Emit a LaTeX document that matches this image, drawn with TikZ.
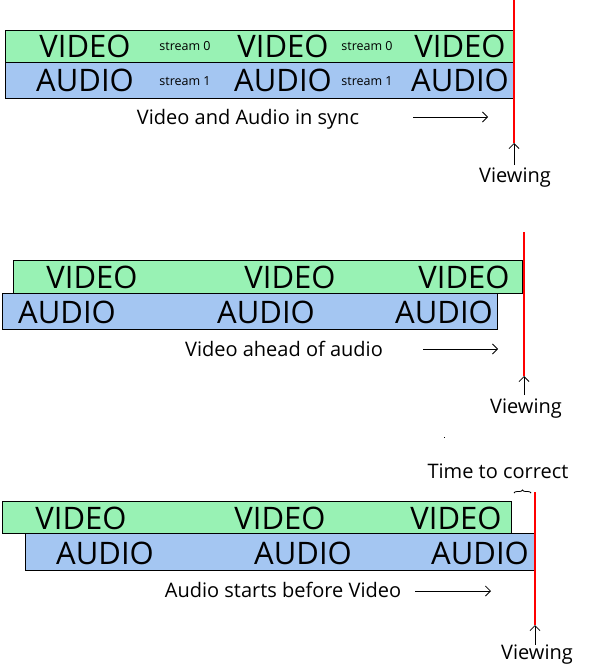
\documentclass[tikz,border=0pt]{standalone}
\usepackage{fontspec}
\setmainfont{Open Sans}
\usetikzlibrary{arrows.meta,decorations.pathreplacing}
\definecolor{vidgreen}{RGB}{152,242,180}
\definecolor{audblue}{RGB}{164,198,242}
\begin{document}
\begin{tikzpicture}[x=1pt,y=-1pt,
 bigtxt/.style={font=\fontsize{31}{31}\selectfont, inner sep=0pt, anchor=base},
 captxt/.style={font=\fontsize{20}{20}\selectfont, inner sep=0pt, anchor=base},
 smalltxt/.style={font=\fontsize{12.5}{12.5}\selectfont, inner sep=0pt, anchor=base},
 vbar/.style={fill=vidgreen, draw=black, line width=1pt},
 abar/.style={fill=audblue, draw=black, line width=1pt},
 redline/.style={draw=red, line width=1.4pt},
 arr/.style={-{Straight Barb[length=5pt,width=10pt]}, line width=0.8pt}]
\useasboundingbox (0,0) rectangle (604,664);

% ---------- section 1 ----------
\draw[vbar] (5,30) rectangle (514,62);
\draw[abar] (5,62) rectangle (514,98);
\node[bigtxt] (v1a) at (85,57) {VIDEO};
\node[bigtxt] (v1b) at (283,57) {VIDEO};
\node[bigtxt] (v1c) at (460,57) {VIDEO};
\node[bigtxt] (a1a) at (85,91) {AUDIO};
\node[bigtxt] (a1b) at (283,91) {AUDIO};
\node[bigtxt] (a1c) at (460,91) {AUDIO};
\node[smalltxt] (s0a) at (185,50) {stream 0};
\node[smalltxt] (s0b) at (367,50) {stream 0};
\node[smalltxt] (s1a) at (185,85) {stream 1};
\node[smalltxt] (s1b) at (367,85) {stream 1};
\node[captxt] (c1) at (248,124) {Video and Audio in sync};
\coordinate (h1s) at (413,117);
\coordinate (h1e) at (488,117);
\draw[arr] (h1s) -- (h1e);
\coordinate (r1t) at (514,0);
\coordinate (r1b) at (514,143);
\draw[redline] (r1t) -- (r1b);
\node[captxt] (w1) at (515,182) {Viewing};
\coordinate (w1a) at (514,165);
\draw[arr] (w1a) -- (r1b);

% ---------- section 2 ----------
\draw[vbar] (13,260) rectangle (522,293);
\draw[abar] (2,293) rectangle (497,329);
\node[bigtxt] (v2a) at (92,288) {VIDEO};
\node[bigtxt] (v2b) at (290,288) {VIDEO};
\node[bigtxt] (v2c) at (464,288) {VIDEO};
\node[bigtxt] (a2a) at (67,323) {AUDIO};
\node[bigtxt] (a2b) at (266,323) {AUDIO};
\node[bigtxt] (a2c) at (444,323) {AUDIO};
\node[captxt] (c2) at (284,356) {Video ahead of audio};
\coordinate (h2s) at (423,349);
\coordinate (h2e) at (498,349);
\draw[arr] (h2s) -- (h2e);
\coordinate (r2t) at (524,232);
\coordinate (r2b) at (524,376);
\draw[redline] (r2t) -- (r2b);
\node[captxt] (w2) at (526,413) {Viewing};
\coordinate (w2a) at (524,395);
\draw[arr] (w2a) -- (r2b);

% ---------- section 3 ----------
\fill (443.5,437) rectangle (445,438);
\node[captxt] (tc) at (498,478) {Time to correct};
\coordinate (b1) at (514,493);
\coordinate (b2) at (531,493);
\draw[decorate, decoration={brace, amplitude=3pt}, line width=0.8pt] (b1) -- (b2);
\draw[vbar] (2,501) rectangle (511,533);
\draw[abar] (25,533) rectangle (535,570);
\node[bigtxt] (v3a) at (81,529) {VIDEO};
\node[bigtxt] (v3b) at (280,529) {VIDEO};
\node[bigtxt] (v3c) at (456,529) {VIDEO};
\node[bigtxt] (a3a) at (105,564) {AUDIO};
\node[bigtxt] (a3b) at (303,564) {AUDIO};
\node[bigtxt] (a3c) at (480,564) {AUDIO};
\node[captxt] (c3) at (283,597) {Audio starts before Video};
\coordinate (h3s) at (415,591);
\coordinate (h3e) at (491,591);
\draw[arr] (h3s) -- (h3e);
\coordinate (r3t) at (535,492);
\coordinate (r3b) at (535,625);
\draw[redline] (r3t) -- (r3b);
\node[captxt] (w3) at (537,659) {Viewing};
\coordinate (w3a) at (535,645);
\draw[arr] (w3a) -- (r3b);
\end{tikzpicture}
\end{document}
